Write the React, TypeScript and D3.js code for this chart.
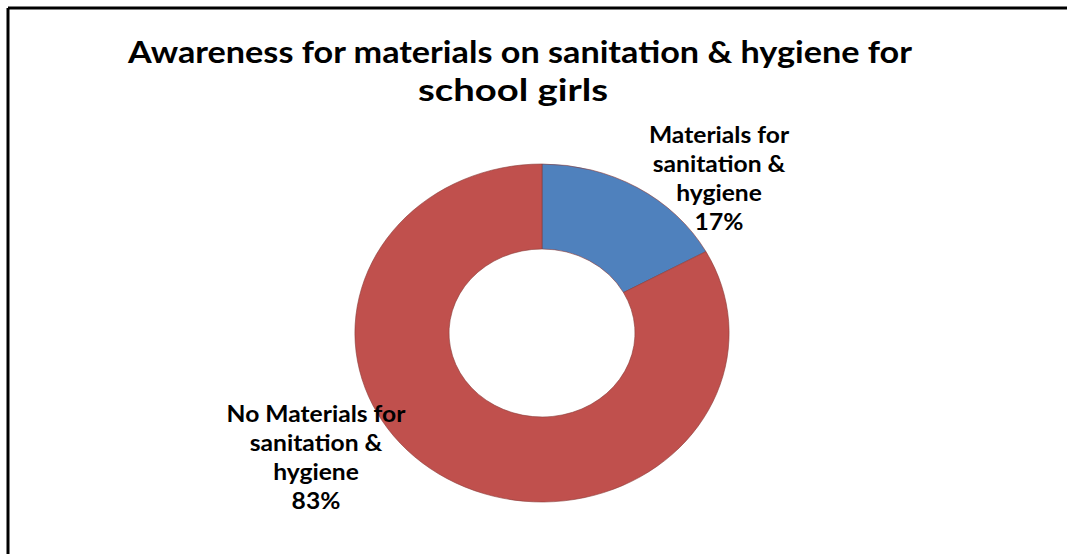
import React, { useEffect } from "react";
import * as d3 from "d3";

const categories = ["Materials for sanitation & hygiene", "No Materials for sanitation & hygiene"];
const values = [17, 83];
const colors = ["#4F81BD", "#C0504D"];
const labelLines = [
  ["Materials for", "sanitation &", "hygiene", "17%"],
  ["No Materials for", "sanitation &", "hygiene", "83%"],
];
const titleLines = ["Awareness for materials on sanitation & hygiene for", "school girls"];

const W = 1067;
const H = 554;
const cx = 542;
const cy = 333;
const outerR = 169;
const innerR = 84;
const stretchX = 1.107;
const labelPos = [
  { x: 719, y: 143 },
  { x: 316, y: 422 },
];
const lineGap = 29;
const font = "Lato, 'Open Sans', sans-serif";

export default function App() {
  useEffect(() => {
    document.body.style.overflow = "hidden";
  }, []);
  const pie = d3.pie<number>().sort(null).value((d) => d);
  const arcs = pie(values);
  const arc = d3.arc<d3.PieArcDatum<number>>().innerRadius(innerR).outerRadius(outerR);

  return (
    <svg
      width={W}
      height={H}
      style={{ position: "absolute", left: 0, top: 0, background: "#fff" }}
    >
      <line x1={8} y1={8} x2={W} y2={8} stroke="#000" strokeWidth={3} />
      <line x1={8} y1={8} x2={8} y2={H} stroke="#000" strokeWidth={3} />
      <text
        x={520}
        y={63}
        textAnchor="middle"
        fontFamily={font}
        fontWeight="bold"
        fontSize={30}
        textLength={784}
        lengthAdjust="spacingAndGlyphs"
        fill="#000"
      >
        {titleLines[0]}
      </text>
      <text
        x={513}
        y={101}
        textAnchor="middle"
        fontFamily={font}
        fontWeight="bold"
        fontSize={30}
        textLength={190}
        lengthAdjust="spacingAndGlyphs"
        fill="#000"
      >
        {titleLines[1]}
      </text>
      <g transform={`translate(${cx},${cy}) scale(${stretchX},1)`}>
        {arcs.map((a, i) => (
          <path
            key={categories[i]}
            d={arc(a) || ""}
            fill={colors[i]}
            stroke="#8a3a38"
            strokeWidth={0.6}
            vectorEffect="non-scaling-stroke"
          />
        ))}
      </g>
      {labelLines.map((lines, i) => (
        <g key={categories[i]} transform={`translate(${labelPos[i].x},${labelPos[i].y}) scale(1.12,1)`}>
          <text textAnchor="middle" fontFamily={font} fontWeight="bold" fontSize={22} fill="#000">
            {lines.map((l, j) => (
              <tspan key={j} x={0} y={j * lineGap}>
                {l}
              </tspan>
            ))}
          </text>
        </g>
      ))}
    </svg>
  );
}
